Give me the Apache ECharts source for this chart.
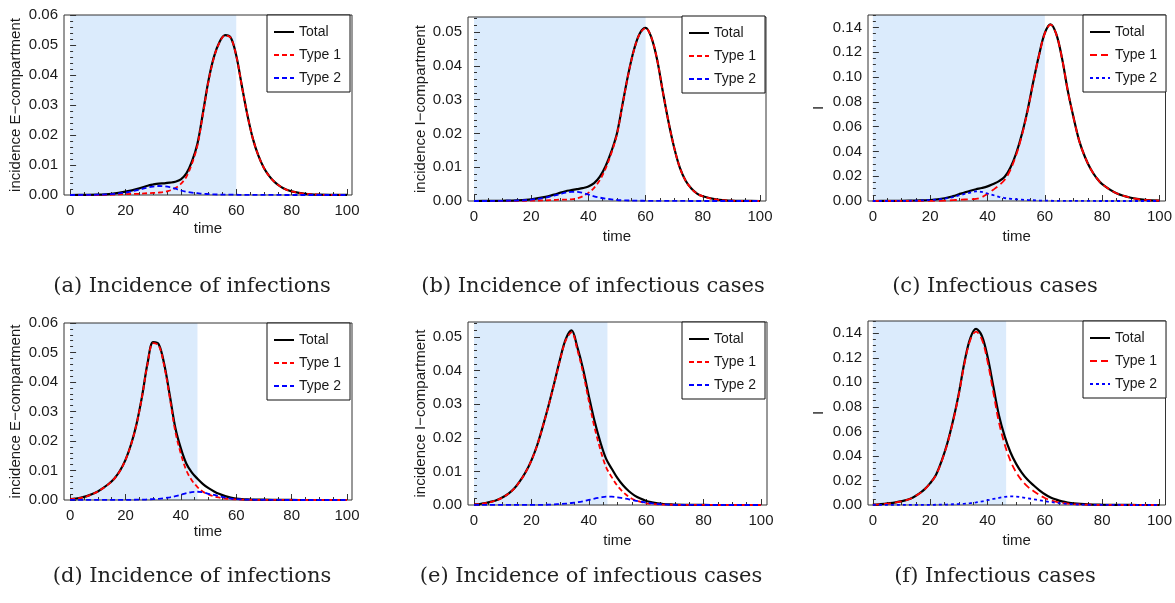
<!DOCTYPE html>
<html>
<head>
<meta charset="utf-8">
<script src="https://cdn.jsdelivr.net/npm/echarts@6/dist/echarts.min.js"></script>
<style>
html,body{margin:0;padding:0;background:#fff;}
#chart{width:1175px;height:603px;}
</style>
</head>
<body>
<div id="chart"></div>
<script>
// ---------- DATA ----------
const T_TOP = [0,5,10,15,20,25,28,30,32,34,36,38,40,42,44,46,48,50,52,54,56,58,60,62,64,66,68,70,72,74,76,78,80,85,90,95,100];
const T_BOT = [0,2,4,6,8,10,12,14,16,18,20,22,24,26,28,30,32,34,36,38,40,42,44,46,48,50,52,54,56,58,60,62,64,66,68,70,75,80,85,90,95,100];

// (a) incidence E-compartment, first scenario
const aTotal = [0,0.00003,0.0001,0.0004,0.0011,0.0022,0.0031,0.0035,0.0038,0.0039,0.0041,0.0044,0.0052,0.0072,0.0112,0.0172,0.0275,0.0383,0.0462,0.0511,0.0533,0.0525,0.0465,0.0365,0.0268,0.0188,0.0131,0.009,0.0062,0.0042,0.0028,0.0018,0.0012,0.0004,0.0001,0.00003,0.00001];
const aType1 = [0,0.00001,0,0.0001,0.0003,0.0004,0.0006,0.0007,0.0008,0.001,0.0015,0.0023,0.0037,0.0061,0.0104,0.0166,0.0271,0.038,0.046,0.0509,0.0532,0.0524,0.0464,0.0364,0.0268,0.0188,0.0131,0.009,0.0062,0.0042,0.0028,0.0018,0.0012,0.0004,0.0001,0.00003,0.00001];
const aType2 = [0,0.00002,0.0001,0.0003,0.0008,0.0018,0.0025,0.0028,0.003,0.0029,0.0026,0.0021,0.0015,0.0011,0.0008,0.0006,0.0004,0.0003,0.0002,0.00015,0.0001,0.0001,0.00008,0.00006,0.00005,0.00004,0.00003,0.00002,0.00002,0.00001,0.00001,0,0,0,0,0,0];

// (b) incidence I-compartment, first scenario
const bTotal = [0,0.00002,0.00008,0.0002,0.0005,0.0012,0.0019,0.0024,0.0029,0.0032,0.0035,0.0038,0.0043,0.0053,0.0072,0.0103,0.0146,0.0201,0.029,0.0378,0.045,0.0497,0.0513,0.0485,0.042,0.0325,0.0235,0.0158,0.0098,0.006,0.0037,0.0022,0.0014,0.0004,0.0001,0.00003,0];
const bType1 = [0,0.00002,0.00003,0.00005,0.0001,0.0002,0.0003,0.0004,0.0004,0.0005,0.0008,0.0014,0.0024,0.0039,0.0062,0.0096,0.0141,0.0198,0.0288,0.0377,0.0449,0.0496,0.0512,0.0485,0.042,0.0325,0.0235,0.0158,0.0098,0.006,0.0037,0.0022,0.0014,0.0004,0.0001,0.00003,0];
const bType2 = [0,0,0.00005,0.00015,0.0004,0.001,0.0016,0.002,0.0025,0.0027,0.0027,0.0024,0.0019,0.0014,0.001,0.0007,0.0005,0.0003,0.0002,0.00015,0.0001,0.00008,0.00006,0.00005,0.00004,0.00003,0.00002,0.00002,0.00001,0.00001,0,0,0,0,0,0,0];

// (c) infectious cases I, first scenario
const cTotal = [0,0.00005,0.0002,0.0004,0.0008,0.0022,0.0039,0.0054,0.0069,0.0083,0.0095,0.0105,0.0118,0.0138,0.016,0.0195,0.027,0.0385,0.054,0.0735,0.0965,0.118,0.1355,0.1425,0.1345,0.115,0.089,0.0675,0.0485,0.0355,0.0258,0.0187,0.0136,0.0062,0.0026,0.0009,0.0003];
const cType1 = [0,0.00005,0.0001,0.0001,0.0001,0.0003,0.0007,0.0009,0.0012,0.0015,0.0017,0.0031,0.0058,0.0091,0.0126,0.0171,0.0252,0.0371,0.0529,0.0727,0.0959,0.1176,0.1352,0.1423,0.1344,0.1149,0.0889,0.0674,0.0484,0.0355,0.0258,0.0187,0.0136,0.0062,0.0026,0.0009,0.0003];
const cType2 = [0,0,0.0001,0.0003,0.0008,0.0019,0.0032,0.0045,0.0057,0.0068,0.0078,0.0074,0.006,0.0047,0.0034,0.0024,0.0018,0.0014,0.0011,0.0008,0.0006,0.0004,0.0003,0.0002,0.00015,0.0001,0.00008,0.00006,0.00005,0.00004,0.00003,0.00002,0.00002,0.00001,0,0,0];

// (d) incidence E-compartment, second scenario
const dTotal = [0.0003,0.0005,0.0008,0.0013,0.002,0.0029,0.0041,0.0055,0.0073,0.0099,0.0136,0.0188,0.0258,0.0352,0.0465,0.0535,0.0528,0.046,0.0355,0.0245,0.0175,0.0123,0.0093,0.0072,0.0054,0.004,0.0029,0.002,0.0013,0.0008,0.0005,0.0003,0.0002,0.00015,0.0001,0.0001,0.00005,0.00002,0,0,0,0];
const dType1 = [0.00025,0.00045,0.00075,0.00125,0.00195,0.00285,0.00405,0.00545,0.00725,0.00985,0.01355,0.01875,0.0257,0.0351,0.0463,0.0532,0.0524,0.0454,0.0346,0.0232,0.0157,0.01,0.0066,0.0044,0.0028,0.0019,0.0012,0.0008,0.0005,0.0003,0.0002,0.0001,0.0001,0.00005,0.00005,0.00005,0.00003,0.00002,0,0,0,0];
const dType2 = [0.00005,0.00005,0.00005,0.00005,0.00005,0.00005,0.00005,0.00005,0.00005,0.00005,0.00005,0.00005,0.0001,0.0001,0.0002,0.0003,0.0004,0.0006,0.0009,0.0013,0.0018,0.0023,0.0027,0.0028,0.0026,0.0021,0.0017,0.0012,0.0008,0.0005,0.0003,0.0002,0.0001,0.0001,0.00005,0.00005,0.00002,0,0,0,0,0];

// (e) incidence I-compartment, second scenario
const eTotal = [0.0002,0.0003,0.0006,0.001,0.0015,0.0023,0.0034,0.0049,0.0071,0.0098,0.0133,0.0178,0.0235,0.0297,0.0365,0.0435,0.0495,0.052,0.047,0.0405,0.0325,0.025,0.0188,0.0138,0.0108,0.008,0.0058,0.0041,0.0028,0.0019,0.0012,0.0008,0.0005,0.0003,0.0002,0.0001,0.00005,0.00002,0,0,0,0];
const eType1 = [0.00015,0.00025,0.00055,0.00095,0.00145,0.00225,0.00335,0.00485,0.00705,0.00975,0.01325,0.01775,0.02345,0.0296,0.0363,0.0432,0.0491,0.0514,0.0462,0.0394,0.031,0.0231,0.0166,0.0113,0.0083,0.0057,0.0038,0.0024,0.0015,0.0009,0.0005,0.0003,0.0002,0.0001,0.0001,0.00005,0.00003,0.00002,0,0,0,0];
const eType2 = [0.00005,0.00005,0.00005,0.00005,0.00005,0.00005,0.00005,0.00005,0.00005,0.00005,0.00005,0.00005,0.00005,0.0001,0.0002,0.0003,0.0004,0.0006,0.0008,0.0011,0.0015,0.0019,0.0022,0.0025,0.0025,0.0023,0.002,0.0017,0.0013,0.001,0.0007,0.0005,0.0003,0.0002,0.0001,0.00005,0.00002,0,0,0,0,0];

// (f) infectious cases I, second scenario
const fTotal = [0.0004,0.0006,0.001,0.0015,0.0022,0.0031,0.0043,0.0062,0.009,0.0127,0.0178,0.0245,0.036,0.0505,0.069,0.091,0.117,0.136,0.1435,0.138,0.121,0.097,0.073,0.056,0.043,0.0335,0.0262,0.0205,0.0162,0.0122,0.0088,0.0062,0.0044,0.003,0.002,0.0013,0.0005,0.0002,0.0001,0.00005,0,0];
const fType1 = [0.0003,0.0005,0.0009,0.0014,0.0021,0.003,0.0042,0.0061,0.0089,0.0126,0.0177,0.0243,0.0357,0.0501,0.0684,0.0902,0.1159,0.1345,0.1414,0.1351,0.1171,0.0921,0.0672,0.0494,0.036,0.0266,0.0199,0.015,0.0115,0.0083,0.0057,0.0038,0.0026,0.0017,0.0011,0.0007,0.0003,0.0001,0.00005,0,0,0];
const fType2 = [0.0001,0.0001,0.0001,0.0001,0.0001,0.0001,0.0001,0.0001,0.0001,0.0001,0.0001,0.0002,0.0003,0.0004,0.0006,0.0008,0.0011,0.0015,0.0021,0.0029,0.0039,0.0049,0.0058,0.0066,0.007,0.0069,0.0063,0.0055,0.0047,0.0039,0.0031,0.0024,0.0018,0.0013,0.0009,0.0006,0.0002,0.0001,0.00005,0,0,0];

// shaded intervention windows [start, end]
const shadeA = [0, 60], shadeB = [0, 60], shadeC = [0, 60];
const shadeD = [0, 46], shadeE = [0, 46.5], shadeF = [0, 46.5];

// tick labels
const xTicks = [0, 20, 40, 60, 80, 100];
const yTicksInc6 = [0, 0.01, 0.02, 0.03, 0.04, 0.05, 0.06];
const yTicksInc5 = [0, 0.01, 0.02, 0.03, 0.04, 0.05];
const yTicksI = [0, 0.02, 0.04, 0.06, 0.08, 0.10, 0.12, 0.14];

const seriesNames = ['Total', 'Type 1', 'Type 2'];
const yNames = ['incidence E\u2212compartment', 'incidence I\u2212compartment', 'I'];
const xName = 'time';
const captions = ['(a) Incidence of infections', '(b) Incidence of infectious cases', '(c) Infectious cases',
                  '(d) Incidence of infections', '(e) Incidence of infectious cases', '(f) Infectious cases'];

// ---------- PANELS ----------
const panels = [
  {key:'a', t:T_TOP, total:aTotal, t1:aType1, t2:aType2, shade:shadeA, yTicks:yTicksInc6, yName:yNames[0], caption:captions[0]},
  {key:'b', t:T_TOP, total:bTotal, t1:bType1, t2:bType2, shade:shadeB, yTicks:yTicksInc5, yName:yNames[1], caption:captions[1]},
  {key:'c', t:T_TOP, total:cTotal, t1:cType1, t2:cType2, shade:shadeC, yTicks:yTicksI,    yName:yNames[2], caption:captions[2]},
  {key:'d', t:T_BOT, total:dTotal, t1:dType1, t2:dType2, shade:shadeD, yTicks:yTicksInc6, yName:yNames[0], caption:captions[3]},
  {key:'e', t:T_BOT, total:eTotal, t1:eType1, t2:eType2, shade:shadeE, yTicks:yTicksInc5, yName:yNames[1], caption:captions[4]},
  {key:'f', t:T_BOT, total:fTotal, t1:fType1, t2:fType2, shade:shadeF, yTicks:yTicksI,    yName:yNames[2], caption:captions[5]}
];

// ---------- LAYOUT / STYLE ----------
const layout = [
  {grid:{left:64, top:15, width:288, height:180}, x:[-2.2,101.8], yMax:0.06,   yMinor:0.002, legend:[267,15],  xGap:26, yGap:41, cap:[192,287], dashes:'short'},
  {grid:{left:468,top:17, width:298, height:184}, x:[-2.1,102.1], yMax:0.0545, yMinor:0.002, legend:[682,16],  xGap:28, yGap:40, cap:[593,287], dashes:'short'},
  {grid:{left:868,top:15, width:300, height:186}, x:[-1.7,102.1], yMax:0.15,   yMinor:0.005, legend:[1083,15], xGap:28, yGap:42, cap:[995,287], dashes:'long'},
  {grid:{left:64, top:323,width:288, height:177}, x:[-2.2,101.8], yMax:0.06,   yMinor:0.002, legend:[267,323], xGap:14, yGap:41, cap:[192,577], dashes:'short'},
  {grid:{left:468,top:322,width:299, height:183}, x:[-2.1,102.1], yMax:0.0545, yMinor:0.002, legend:[682,322], xGap:28, yGap:40, cap:[591,577], dashes:'short'},
  {grid:{left:868,top:321,width:300, height:184}, x:[-1.7,102.1], yMax:0.15,   yMinor:0.005, legend:[1083,321],xGap:28, yGap:42, cap:[995,577], dashes:'long'}
];
const SANS = 'Liberation Sans, Arial, sans-serif';
const SERIF = 'DejaVu Serif, serif';
const AX = '#333';
const TXT = '#1a1a1a';
const SHADE = '#dbebfc';

function pairs(t, v) { return t.map((x, i) => [x, v[i]]); }
function minors(lo, hi, step, majors) {
  const out = [];
  const n = Math.round((hi - lo) / step);
  for (let k = 0; k <= n; k++) {
    const v = +(lo + k * step).toFixed(6);
    if (!majors.some(m => Math.abs(m - v) < 1e-9)) out.push(v);
  }
  return out;
}

const option = {
  animation: false,
  backgroundColor: '#fff',
  grid: [], xAxis: [], yAxis: [], series: [], legend: [], graphic: []
};

panels.forEach((p, i) => {
  const L = layout[i];
  option.grid.push(Object.assign({show:true, borderColor:AX, borderWidth:1, backgroundColor:'transparent', containLabel:false}, L.grid));
  const xMinor = minors(0, 100, 5, xTicks);
  const yMinorV = minors(0, L.yMax, L.yMinor, p.yTicks);
  option.xAxis.push({
    gridIndex:i, type:'value', min:L.x[0], max:L.x[1], position:'bottom',
    axisLine:{show:false}, splitLine:{show:false},
    axisTick:{show:true, inside:true, length:6, customValues:xTicks, lineStyle:{color:AX, width:1}},
    axisLabel:{show:true, customValues:xTicks, margin:8, fontSize:15, color:TXT, fontFamily:SANS},
    name:xName, nameLocation:'middle', nameGap:L.xGap,
    nameTextStyle:{fontSize:15, color:TXT, fontFamily:SANS}
  });
  option.xAxis.push({
    gridIndex:i, type:'value', min:L.x[0], max:L.x[1], position:'bottom', offset:0,
    axisLine:{show:false}, splitLine:{show:false}, axisLabel:{show:false},
    axisTick:{show:true, inside:true, length:3, customValues:xMinor, lineStyle:{color:AX, width:1}}
  });
  option.yAxis.push({
    gridIndex:i, type:'value', min:0, max:L.yMax, position:'left',
    axisLine:{show:false}, splitLine:{show:false},
    axisTick:{show:true, inside:true, length:6, customValues:p.yTicks, lineStyle:{color:AX, width:1}},
    axisLabel:{show:true, customValues:p.yTicks, margin:6, fontSize:15, color:TXT, fontFamily:SANS,
               formatter: v => Number(v).toFixed(2)},
    name:p.yName, nameLocation:'middle', nameRotate:90, nameGap:L.yGap,
    nameTextStyle:{fontSize:15, color:TXT, fontFamily:SANS}
  });
  option.yAxis.push({
    gridIndex:i, type:'value', min:0, max:L.yMax, position:'left', offset:0,
    axisLine:{show:false}, splitLine:{show:false}, axisLabel:{show:false},
    axisTick:{show:true, inside:true, length:3, customValues:yMinorV, lineStyle:{color:AX, width:1}}
  });

  const xi = 2 * i, yi = 2 * i;
  const d1 = L.dashes === 'long' ? [7, 4] : [5, 3];
  const d2 = L.dashes === 'long' ? [3, 3] : [5, 3];

  option.series.push({
    name:'shade|' + p.key, type:'line', xAxisIndex:xi, yAxisIndex:yi,
    data:[[p.shade[0], L.yMax], [p.shade[1], L.yMax]],
    symbol:'none', silent:true, z:-1,
    lineStyle:{width:0, opacity:0},
    areaStyle:{color:SHADE, opacity:1}
  });
  option.series.push({
    name:seriesNames[0] + '|' + p.key, type:'line', xAxisIndex:xi, yAxisIndex:yi,
    data:pairs(p.t, p.total), symbol:'none', smooth:0.35, z:3,
    lineStyle:{color:'#000', width:2.2, type:'solid'}, itemStyle:{color:'#000'}
  });
  option.series.push({
    name:seriesNames[1] + '|' + p.key, type:'line', xAxisIndex:xi, yAxisIndex:yi,
    data:pairs(p.t, p.t1), symbol:'none', smooth:0.35, z:4,
    lineStyle:{color:'#ff0000', width:1.8, type:d1}, itemStyle:{color:'#ff0000'}
  });
  option.series.push({
    name:seriesNames[2] + '|' + p.key, type:'line', xAxisIndex:xi, yAxisIndex:yi,
    data:pairs(p.t, p.t2), symbol:'none', smooth:0.35, z:5,
    lineStyle:{color:'#0000ff', width:1.8, type:d2}, itemStyle:{color:'#0000ff'}
  });

  option.legend.push({
    data: seriesNames.map(n => n + '|' + p.key),
    formatter: name => name.split('|')[0],
    left:L.legend[0], top:L.legend[1], orient:'vertical',
    backgroundColor:'#fff', borderColor:'#111', borderWidth:1, borderRadius:0,
    padding:[10, 9, 7, 6], itemGap:9, itemWidth:20, itemHeight:14,
    selectedMode:false, z:10,
    itemStyle:{color:'transparent', borderColor:'transparent', borderWidth:0, opacity:0},
    textStyle:{fontSize:14, color:TXT, fontFamily:SANS}
  });

  option.graphic.push({
    type:'text', x:L.cap[0], y:L.cap[1], silent:true,
    style:{text:p.caption, align:'center', verticalAlign:'middle', fill:'#222',
           fontSize:21, fontFamily:SERIF}
  });
});

const chart = echarts.init(document.getElementById('chart'), null, {renderer:'canvas'});
chart.setOption(option);
</script>
</body>
</html>
